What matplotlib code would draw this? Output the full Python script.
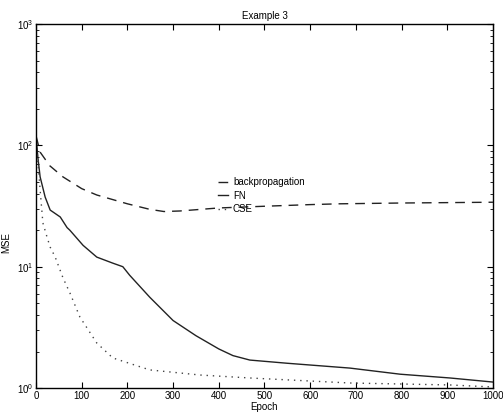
import matplotlib
matplotlib.use("Agg")
import matplotlib.pyplot as plt

plt.rcParams['font.family'] = ['Liberation Sans', 'DejaVu Sans']
plt.rcParams['mathtext.fontset'] = 'custom'
plt.rcParams['mathtext.rm'] = 'Liberation Sans'

# values
bp_epoch = [0, 9, 30, 59, 100, 133, 200, 249, 280, 315, 400, 500, 600, 665, 800, 1000]
bp_mse = [120, 88, 68, 55, 44, 39, 33, 29.7, 28.5, 28.8, 30.5, 31.5, 32.5, 33, 33.5, 34]

fn_epoch = [0, 4, 9, 20, 31, 53, 68, 74, 103, 133, 168, 190, 205, 249, 300, 350, 400,
            431, 468, 550, 687, 797, 906, 1000]
fn_mse = [120, 80, 55, 37.5, 29.3, 25.7, 21, 20, 15, 12, 10.7, 10, 8.5, 5.6, 3.6, 2.7,
          2.1, 1.85, 1.7, 1.6, 1.46, 1.3, 1.21, 1.12]

cse_epoch = [0, 4, 9, 15, 24, 31, 42, 59, 74, 96, 133, 168, 249, 359, 468, 687, 906, 1000]
cse_mse = [120, 75, 43, 23, 17.6, 14.5, 12, 8.1, 6.1, 3.85, 2.35, 1.77, 1.41, 1.28,
           1.21, 1.10, 1.06, 1.02]

labels = ["backpropagation", "FN", "CSE"]
xticks = [0, 100, 200, 300, 400, 500, 600, 700, 800, 900, 1000]

fig = plt.figure(figsize=(5.03, 4.15), dpi=100)
ax = fig.add_axes([0.0716, 0.065, 0.9084, 0.877])

ax.plot(bp_epoch, bp_mse, color="#222222", lw=1.0, ls=(0, (7, 5)), label=labels[0])
ax.plot(fn_epoch, fn_mse, color="#222222", lw=1.0, ls="-", label=labels[1])
ax.plot(cse_epoch, cse_mse, color="#444444", lw=1.0, ls=(0, (1, 3.5)), label=labels[2])

ax.set_yscale("log")
ax.set_xlim(0, 1000)
ax.set_ylim(1, 1000)
ax.set_xticks(xticks)
ax.set_xticklabels([str(t) for t in xticks])

ax.tick_params(which="both", direction="in", top=True, right=True, labelsize=7, pad=2)
ax.tick_params(which="major", length=4)
ax.tick_params(which="minor", length=2)
for s in ax.spines.values():
    s.set_linewidth(1.0)

ax.set_title("Example 3", fontsize=7, pad=4)
ax.set_xlabel("Epoch", fontsize=7, va="top")
ax.set_ylabel("MSE", fontsize=7)
ax.xaxis.set_label_coords(0.5, -0.038)
ax.yaxis.set_label_coords(-0.055, 0.40)

leg = ax.legend(loc="upper left", bbox_to_anchor=(0.38, 0.603), frameon=False,
                fontsize=7, handlelength=1.0, handletextpad=0.5, labelspacing=0.35)

fig.savefig("out.png", dpi=100)
